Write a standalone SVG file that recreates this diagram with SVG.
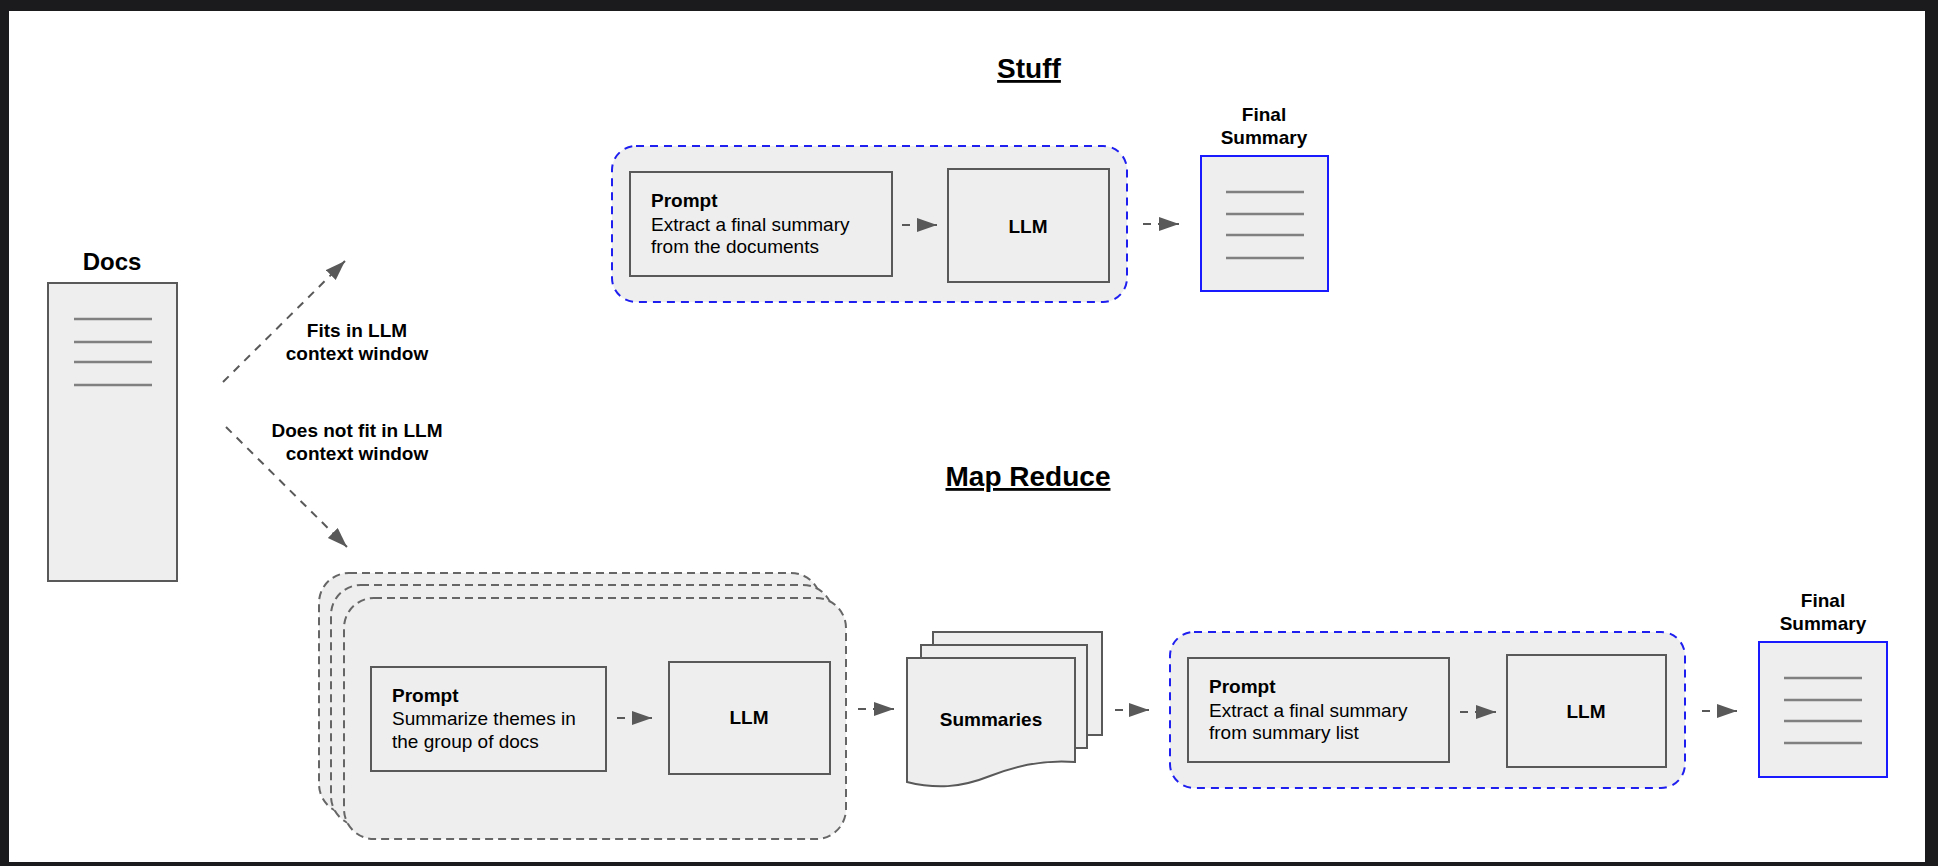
<svg xmlns="http://www.w3.org/2000/svg" width="1938" height="866" viewBox="0 0 1938 866">
<defs>
<marker id="ah" markerUnits="userSpaceOnUse" markerWidth="22" markerHeight="16" refX="20" refY="7" orient="auto">
<path d="M0,0 L20,7 L0,14 z" fill="#595959"/>
</marker>
</defs>
<style>
text{font-family:"Liberation Sans",Arial,sans-serif;fill:#000}
.b{font-weight:bold}
.t{font-size:19px}
.title{font-size:28px;font-weight:bold;text-decoration:underline}
.box{fill:#eeeeee;stroke:#595959;stroke-width:2}
.blue{fill:#eeeeee;stroke:#1f1ff0;stroke-width:2;stroke-dasharray:8 6}
.gray{fill:#eeeeee;stroke:#666666;stroke-width:2;stroke-dasharray:8 5}
.fs{fill:#eeeeee;stroke:#1a1aff;stroke-width:2}
.ln{stroke:#808080;stroke-width:2.5}
.arr{stroke:#595959;stroke-width:2;stroke-dasharray:8 7;fill:none;marker-end:url(#ah)}
</style>
<rect x="0" y="0" width="1938" height="866" fill="#1b1b1d"/>
<rect x="9" y="11" width="1916" height="851" fill="#ffffff"/>

<g id="title-stuff"><text class="title" x="1029" y="78" text-anchor="middle">Stuff</text></g>
<g id="title-mapreduce"><text class="title" x="1028" y="486" text-anchor="middle">Map Reduce</text></g>

<g id="docs">
<text class="b" x="112" y="270" font-size="24" text-anchor="middle">Docs</text>
<rect class="box" x="48" y="283" width="129" height="298"/>
<line class="ln" x1="74" y1="319" x2="152" y2="319"/>
<line class="ln" x1="74" y1="342" x2="152" y2="342"/>
<line class="ln" x1="74" y1="362" x2="152" y2="362"/>
<line class="ln" x1="74" y1="385" x2="152" y2="385"/>
</g>

<g id="label-fits">
<text class="b t" x="357" y="337" text-anchor="middle">Fits in LLM</text>
<text class="b t" x="357" y="360" text-anchor="middle">context window</text>
</g>
<g id="label-notfit">
<text class="b t" x="357" y="437" text-anchor="middle">Does not fit in LLM</text>
<text class="b t" x="357" y="460" text-anchor="middle">context window</text>
</g>

<g id="stuff-container"><rect class="blue" x="612" y="146" width="515" height="156" rx="24"/></g>
<g id="stuff-prompt">
<rect class="box" x="630" y="172" width="262" height="104"/>
<text class="b t" x="651" y="207">Prompt</text>
<text class="t" x="651" y="231">Extract a final summary</text>
<text class="t" x="651" y="253">from the documents</text>
</g>
<g id="stuff-llm">
<rect class="box" x="948" y="169" width="161" height="113"/>
<text class="b t" x="1028" y="233" text-anchor="middle">LLM</text>
</g>
<g id="stuff-final">
<text class="b t" x="1264" y="121" text-anchor="middle">Final</text>
<text class="b t" x="1264" y="144" text-anchor="middle">Summary</text>
<rect class="fs" x="1201" y="156" width="127" height="135"/>
<line class="ln" x1="1226" y1="192" x2="1304" y2="192"/>
<line class="ln" x1="1226" y1="214" x2="1304" y2="214"/>
<line class="ln" x1="1226" y1="235" x2="1304" y2="235"/>
<line class="ln" x1="1226" y1="258" x2="1304" y2="258"/>
</g>

<g id="map-stack">
<rect class="gray" x="319" y="573" width="502" height="241" rx="30"/>
<rect class="gray" x="331" y="585" width="502" height="241" rx="30"/>
<rect class="gray" x="344" y="598" width="502" height="241" rx="30"/>
</g>
<g id="map-prompt">
<rect class="box" x="371" y="667" width="235" height="104"/>
<text class="b t" x="392" y="702">Prompt</text>
<text class="t" x="392" y="725">Summarize themes in</text>
<text class="t" x="392" y="748">the group of docs</text>
</g>
<g id="map-llm">
<rect class="box" x="669" y="662" width="161" height="112"/>
<text class="b t" x="749" y="724" text-anchor="middle">LLM</text>
</g>

<g id="summaries">
<rect class="box" x="933" y="632" width="169" height="103"/>
<rect class="box" x="921" y="645" width="166" height="103"/>
<path class="box" d="M907,658 H1075 V762 C1050,760 1020,764 990,776 C960,788 935,789 907,782 Z"/>
<text class="b t" x="991" y="726" text-anchor="middle">Summaries</text>
</g>

<g id="reduce-container"><rect class="blue" x="1170" y="632" width="515" height="156" rx="24"/></g>
<g id="reduce-prompt">
<rect class="box" x="1188" y="658" width="261" height="104"/>
<text class="b t" x="1209" y="693">Prompt</text>
<text class="t" x="1209" y="717">Extract a final summary</text>
<text class="t" x="1209" y="739">from summary list</text>
</g>
<g id="reduce-llm">
<rect class="box" x="1507" y="655" width="159" height="112"/>
<text class="b t" x="1586" y="718" text-anchor="middle">LLM</text>
</g>
<g id="reduce-final">
<text class="b t" x="1823" y="607" text-anchor="middle">Final</text>
<text class="b t" x="1823" y="630" text-anchor="middle">Summary</text>
<rect class="fs" x="1759" y="642" width="128" height="135"/>
<line class="ln" x1="1784" y1="678" x2="1862" y2="678"/>
<line class="ln" x1="1784" y1="700" x2="1862" y2="700"/>
<line class="ln" x1="1784" y1="721" x2="1862" y2="721"/>
<line class="ln" x1="1784" y1="743" x2="1862" y2="743"/>
</g>

<g id="connectors">
<line class="arr" x1="223" y1="382" x2="345" y2="261"/>
<line class="arr" x1="226" y1="427" x2="347" y2="547"/>
<line class="arr" x1="902" y1="225" x2="937" y2="225"/>
<line class="arr" x1="1143" y1="224" x2="1179" y2="224"/>
<line class="arr" x1="617" y1="718" x2="652" y2="718"/>
<line class="arr" x1="858" y1="709" x2="894" y2="709"/>
<line class="arr" x1="1115" y1="710" x2="1149" y2="710"/>
<line class="arr" x1="1460" y1="712" x2="1496" y2="712"/>
<line class="arr" x1="1702" y1="711" x2="1737" y2="711"/>
</g>
</svg>
